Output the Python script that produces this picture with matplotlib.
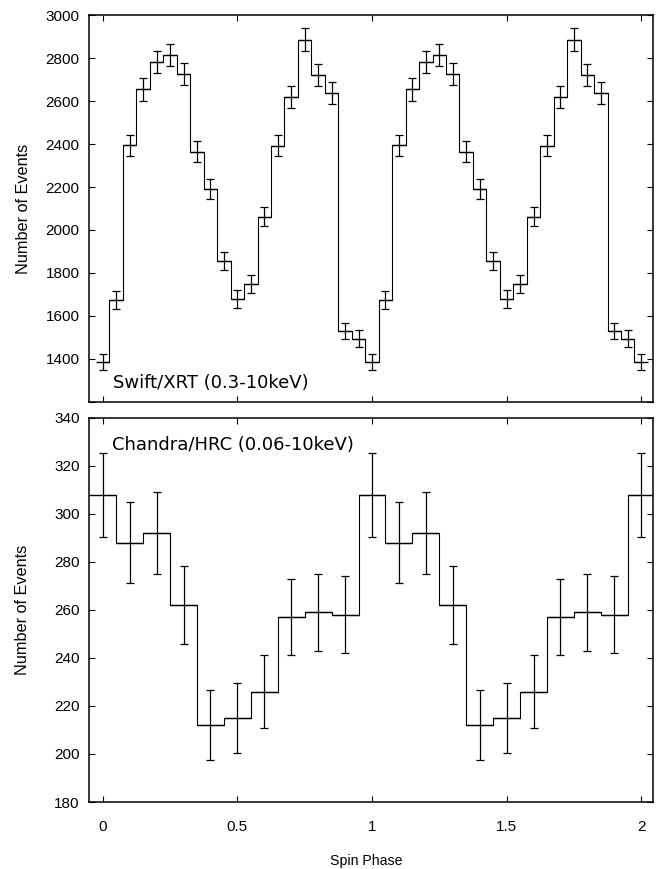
import numpy as np
import matplotlib
matplotlib.use("Agg")
from matplotlib import pyplot as plt

# Swift/XRT folded light curve, 20 bins per cycle
xrt_phase = np.arange(20) * 0.05
xrt_counts = [1385, 1674, 2395, 2655, 2783, 2815, 2725, 2364, 2189, 1855,
              1679, 1748, 2062, 2393, 2618, 2886, 2722, 2640, 1530, 1494]
xrt_err = [37, 41, 49, 52, 53, 53, 52, 49, 47, 43,
           41, 42, 45, 49, 51, 54, 52, 51, 39, 39]

# Chandra/HRC folded light curve, 10 bins per cycle
hrc_phase = np.arange(10) * 0.1
hrc_counts = [308, 288, 292, 262, 212, 215, 226, 257, 259, 258]
hrc_err = [17.5, 17, 17, 16.2, 14.6, 14.7, 15, 16, 16, 16]

xrt_label = "Swift/XRT (0.3-10keV)"
hrc_label = "Chandra/HRC (0.06-10keV)"
TICK_FONT = "Liberation Sans"


def two_cycles(phase, vals):
    """ Repeat the folded profile over two cycles, closing at phase 2"""
    phase = np.asarray(phase)
    vals = np.asarray(vals, dtype=float)
    x = np.concatenate([phase, phase + 1, [2.0]])
    y = np.concatenate([vals, vals, vals[:1]])
    return x, y


def draw_panel(ax, phase, counts, err, half_width):
    x, y = two_cycles(phase, counts)
    _, e = two_cycles(phase, err)
    ax.step(x, y, where="mid", color="black", lw=0.8)
    ax.errorbar(x, y, xerr=half_width, fmt="none", ecolor="black",
                elinewidth=1.0, capsize=0)
    ax.errorbar(x, y, yerr=e, fmt="none", ecolor="black",
                elinewidth=0.9, capsize=2.6, capthick=0.9)
    ax.set_xlim(-0.05, 2.045)
    ax.set_xticks([0, 0.5, 1, 1.5, 2])
    ax.tick_params(direction="in", top=True, right=True, length=4.5,
                   width=0.8, labelsize=11)
    for s in ax.spines.values():
        s.set_linewidth(1.1)


fig = plt.figure(figsize=(6.62, 8.69), dpi=100)
ax1 = fig.add_axes([0.1349, 0.5377, 0.8520, 0.4447])
ax2 = fig.add_axes([0.1349, 0.0771, 0.8520, 0.4422])

# top panel
draw_panel(ax1, xrt_phase, xrt_counts, xrt_err, 0.025)
ax1.set_ylim(1200, 3000)
yt = np.arange(1200, 3001, 200)
ax1.set_yticks(yt)
ax1.set_yticklabels([""] + [str(v) for v in yt[1:]], family=TICK_FONT)
ax1.tick_params(axis="y", pad=7)
ax1.tick_params(axis="x", labelbottom=False)
ax1.set_ylabel("Number of Events", family=TICK_FONT, fontsize=11.7,
               labelpad=10.5)
ax1.text(0.0426, 0.035, xrt_label, transform=ax1.transAxes, fontsize=13,
         family="DejaVu Sans", va="baseline", ha="left")

# bottom panel
draw_panel(ax2, hrc_phase, hrc_counts, hrc_err, 0.05)
ax2.set_ylim(180, 340)
yt2 = np.arange(180, 341, 20)
ax2.set_yticks(yt2)
ax2.set_yticklabels([str(v) for v in yt2], family=TICK_FONT)
ax2.set_xticklabels(["0", "0.5", "1", "1.5", "2"], family=TICK_FONT)
ax2.tick_params(axis="y", pad=7)
ax2.tick_params(axis="x", pad=13)
ax2.set_ylabel("Number of Events", family=TICK_FONT, fontsize=11.7,
               labelpad=17)
ax2.set_xlabel("Spin Phase", family=TICK_FONT, fontsize=10.2, labelpad=14)
ax2.xaxis.label.set_x(0.491)
ax2.text(0.041, 0.916, hrc_label, transform=ax2.transAxes, fontsize=13,
         family="DejaVu Sans", va="baseline", ha="left")

fig.savefig("out.png", dpi=100)
